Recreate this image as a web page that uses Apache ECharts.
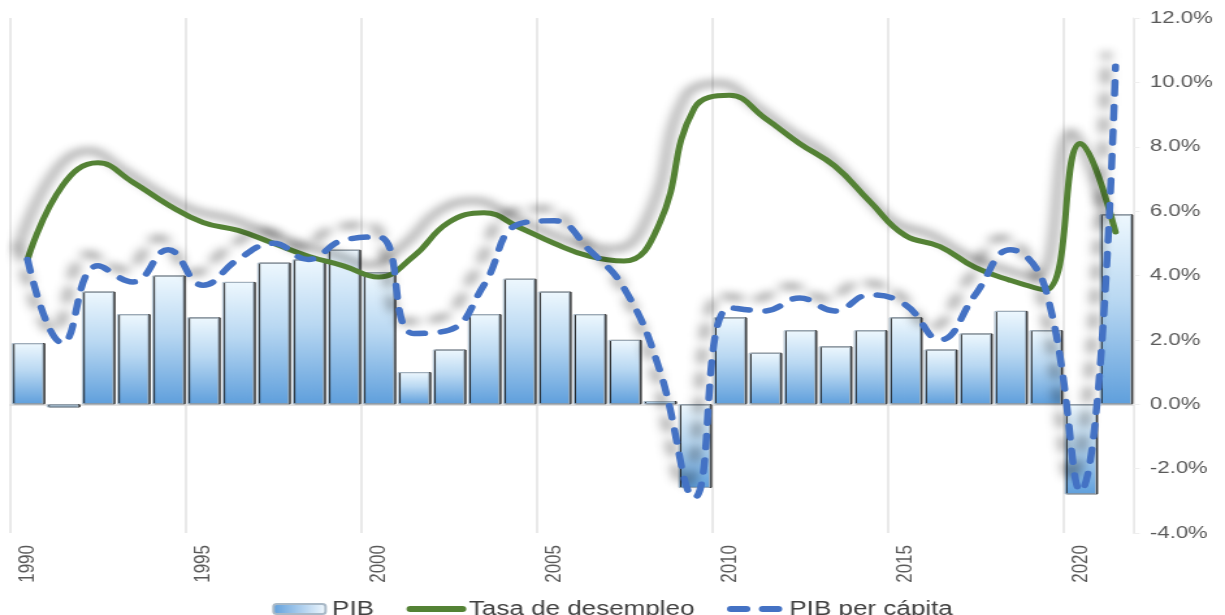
<!DOCTYPE html>
<html>
<head>
<meta charset="utf-8">
<script src="https://cdn.jsdelivr.net/npm/echarts@6/dist/echarts.min.js"></script>
<style>
  html, body { margin: 0; padding: 0; background: #ffffff; overflow: hidden; }
  #wrap { width: 1225px; height: 615px; overflow: hidden; }
  /* the chart is laid out narrow and widened, giving the broad lettering of the original */
  #chart { width: 942px; height: 615px; transform: scaleX(1.3004); transform-origin: 0 0; }
</style>
</head>
<body>
<div id="wrap"><div id="chart"></div></div>
<script>
// Years on the category axis
const years = ['1990','1991','1992','1993','1994','1995','1996','1997','1998','1999',
               '2000','2001','2002','2003','2004','2005','2006','2007','2008','2009',
               '2010','2011','2012','2013','2014','2015','2016','2017','2018','2019',
               '2020','2021'];

// Real GDP growth (%)
const pib = [1.9, -0.1, 3.5, 2.8, 4.0, 2.7, 3.8, 4.4, 4.5, 4.8,
             4.1, 1.0, 1.7, 2.8, 3.9, 3.5, 2.8, 2.0, 0.1, -2.6,
             2.7, 1.6, 2.3, 1.8, 2.3, 2.7, 1.7, 2.2, 2.9, 2.3,
             -2.8, 5.9];

// Unemployment rate (%)
const desempleo = [4.5, 6.8, 7.5, 6.9, 6.2, 5.65, 5.4, 5.0, 4.6, 4.3,
                   3.95, 4.6, 5.65, 5.95, 5.5, 5.0, 4.6, 4.45, 5.6, 9.2,
                   9.6, 8.9, 8.1, 7.4, 6.3, 5.25, 4.9, 4.25, 3.85, 3.55,
                   8.1, 5.35];

// GDP per capita growth (%)
const pibPerCapita = [4.5, 1.9, 4.3, 3.8, 4.8, 3.7, 4.5, 5.0, 4.5, 5.1,
                      5.2, 2.2, 2.3, 3.7, 5.6, 5.7, 4.8, 3.6, 1.1, -2.9,
                      3.0, 2.9, 3.3, 2.9, 3.4, 3.1, 2.0, 3.4, 4.8, 3.6,
                      -2.7, 10.5];

// Right-hand percentage scale
const yMin = -4, yMax = 12, yStep = 2;

const FONT = '"Liberation Sans", Arial, sans-serif';
const GREEN = '#548235';
const BLUE = '#4472c4';
const DASH = [12, 12.5];

const chart = echarts.init(document.getElementById('chart'), null, { renderer: 'canvas' });

const barFill = new echarts.graphic.LinearGradient(0, 0, 0, 1, [
  { offset: 0, color: '#eef8fe' },
  { offset: 0.45, color: '#b9d8f2' },
  { offset: 1, color: '#5f9fdc' }
]);
const legendBarFill = new echarts.graphic.LinearGradient(0, 0, 1, 0, [
  { offset: 0, color: '#5f9fdc' },
  { offset: 1, color: '#f2f9fe' }
]);

const lineShadow = {
  shadowColor: 'rgba(0,0,0,0.45)',
  shadowBlur: 8,
  shadowOffsetX: -7,
  shadowOffsetY: -12
};

chart.setOption({
  animation: false,
  backgroundColor: '#ffffff',
  grid: { left: 7.7, right: 70.7, top: 18, bottom: 82, containLabel: false },
  legend: {
    top: 594,
    left: 'center',
    itemWidth: 40,
    itemHeight: 10,
    itemGap: 25,
    textStyle: { fontFamily: FONT, fontSize: 20, color: '#404040' },
    data: [
      { name: 'PIB', itemStyle: { color: legendBarFill } },
      {
        name: 'Tasa de desempleo',
        itemStyle: { opacity: 0 },
        lineStyle: { color: GREEN, width: 6, cap: 'round', shadowBlur: 0 }
      },
      {
        name: 'PIB per cápita',
        itemStyle: { opacity: 0 },
        lineStyle: { color: BLUE, width: 6, type: DASH, cap: 'round', shadowBlur: 0 }
      }
    ]
  },
  xAxis: {
    type: 'category',
    data: years,
    boundaryGap: true,
    axisLine: { show: true, onZero: true, lineStyle: { color: '#d9d9d9', width: 1.5 } },
    axisTick: { show: false },
    axisLabel: {
      interval: 4,
      rotate: 90,
      margin: 12,
      fontFamily: FONT,
      fontSize: 17,
      color: '#595959'
    },
    splitLine: { show: true, interval: 4, lineStyle: { color: '#e4e4e4', width: 1.6 } }
  },
  yAxis: {
    type: 'value',
    position: 'right',
    min: yMin,
    max: yMax,
    interval: yStep,
    axisLine: { show: true, lineStyle: { color: '#eeeeee', width: 1 } },
    axisTick: { show: true, length: 5, lineStyle: { color: '#eeeeee' } },
    splitLine: { show: false },
    axisLabel: {
      margin: 13,
      fontFamily: FONT,
      fontSize: 17,
      color: '#595959',
      formatter: v => v.toFixed(1) + '%'
    }
  },
  series: [
    {
      name: 'PIB',
      type: 'bar',
      data: pib,
      barCategoryGap: '9%',
      itemStyle: {
        color: barFill,
        borderColor: '#a9b9c7',
        borderWidth: 1,
        shadowColor: 'rgba(25,25,25,0.9)',
        shadowBlur: 0,
        shadowOffsetX: 1.3,
        shadowOffsetY: 0
      },
      z: 1
    },
    {
      name: 'Tasa de desempleo',
      type: 'line',
      data: desempleo,
      smooth: 0.45,
      symbol: 'none',
      showSymbol: false,
      itemStyle: { color: GREEN },
      lineStyle: Object.assign({ color: GREEN, width: 5, cap: 'round', join: 'round' }, lineShadow),
      z: 3
    },
    {
      name: 'PIB per cápita',
      type: 'line',
      data: pibPerCapita,
      smooth: 0.45,
      symbol: 'none',
      showSymbol: false,
      itemStyle: { color: BLUE },
      lineStyle: Object.assign({ color: BLUE, width: 5.5, type: DASH, cap: 'round', join: 'round' }, lineShadow),
      z: 4
    }
  ]
});
</script>
</body>
</html>
